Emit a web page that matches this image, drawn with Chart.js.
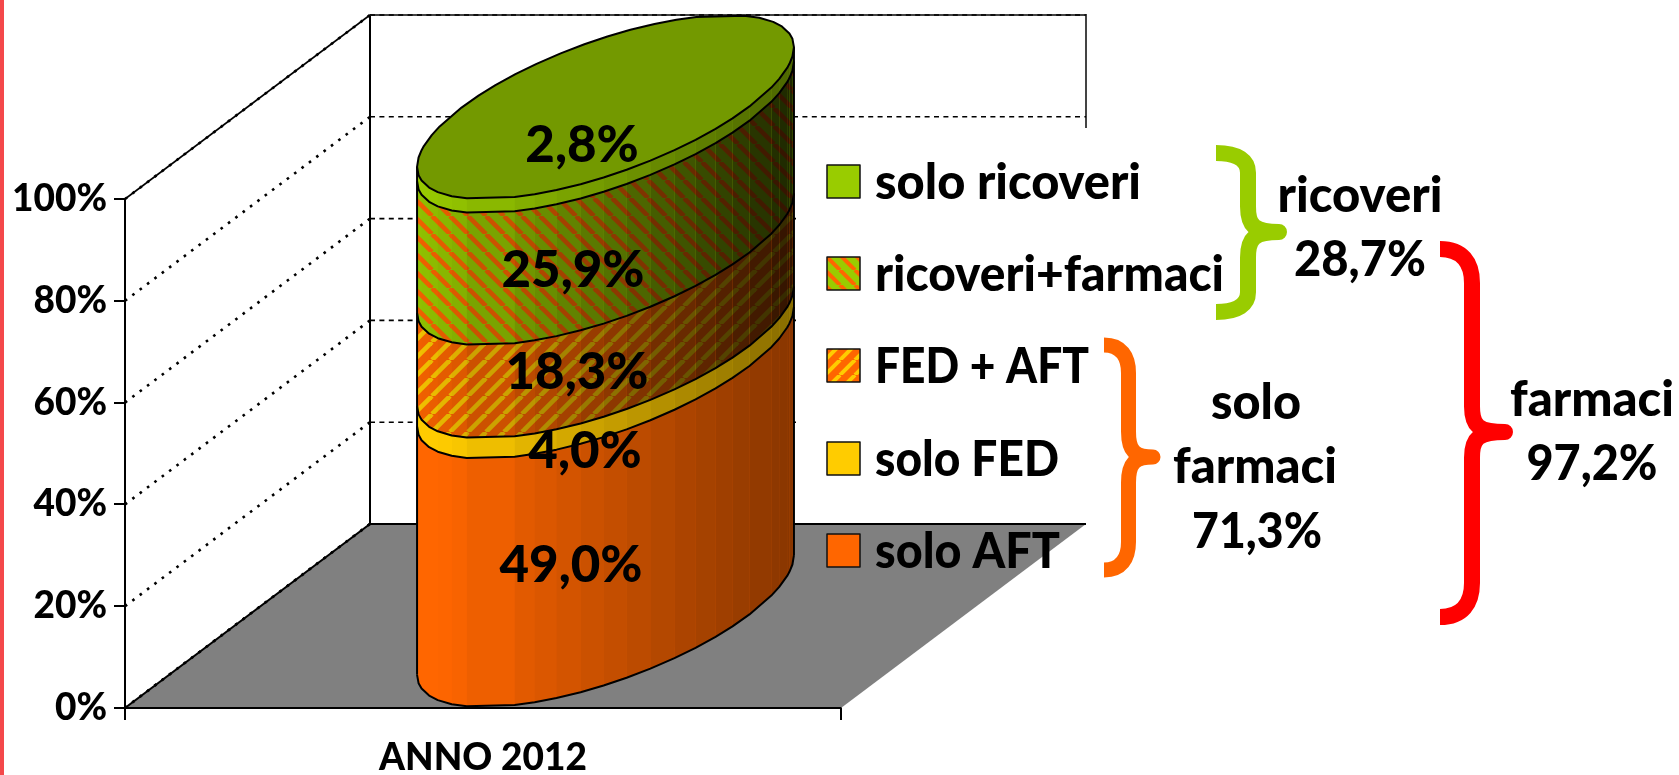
<!DOCTYPE html>
<html><head><meta charset="utf-8">
<style>html,body{margin:0;padding:0;background:#fff}canvas{display:block}</style>
<script src="https://cdn.jsdelivr.net/npm/chart.js@4"></script>
</head><body><canvas id="c" width="1679" height="775"></canvas>
<script>
const categories = ['ANNO 2012'];
const soloAFT = [49.0];
const soloFED = [4.0];
const fedAft = [18.3];
const ricoveriFarmaci = [25.9];
const soloRicoveri = [2.8];
const seriesNames = ['solo AFT', 'solo FED', 'FED + AFT', 'ricoveri+farmaci', 'solo ricoveri'];
const valueLabels = ['49,0%', '4,0%', '18,3%', '25,9%', '2,8%'];

// layout / style (not data)
const DEPTH = {x: 245, y: 184};
const FONT = 'Lato';
const WEIGHT = '900';
const LABEL_POS = [[571,582],[585,468],[577,389],[573,287],[582,162]];
const LEGEND_ROWS = [568,476,383,291,199];
const LEGEND_WIDTHS = [185,184,214,349,266];
const FACETS = [0,.004,.012,.032,.055,.092,.132,.259,.312,.37,.434,.495,.556,.619,.683,.739,.792,.837,.882,.94,.961,.982,.988,.996,1];

function hatch(bg, fg, dir, period, w) {
  const c = document.createElement('canvas'); c.width = c.height = period;
  const g = c.getContext('2d');
  g.fillStyle = bg; g.fillRect(0,0,period,period);
  g.strokeStyle = fg; g.lineWidth = w;
  for (let k = -1; k <= 1; k++) {
    g.beginPath();
    if (dir > 0) { g.moveTo(k*period, period); g.lineTo(k*period+period, 0); }
    else { g.moveTo(k*period, 0); g.lineTo(k*period+period, period); }
    g.stroke();
  }
  return g.createPattern(c, 'repeat');
}
const fills = [
  {color:'#FF6600', box:'#FF6600', top:1.03, slope:.5},
  {color:'#FFCC00', box:'#FFCC00', top:1.03, slope:.5},
  {color:hatch('#FF6600','#FFCC00', 1, 18, 4.6), box:hatch('#FF6600','#FFCC00', 1, 15, 4), top:.95, slope:.76},
  {color:hatch('#99CC00','#FF6600',-1, 18, 4.6), box:hatch('#99CC00','#FF6600',-1, 15, 4), top:.95, slope:.76},
  {color:'#99CC00', box:'#99CC00', top:1.0, slope:.5}
];

const scene = {
  id: 'scene',
  beforeDraw(chart){
    const c = chart.ctx;
    c.save();
    c.fillStyle = '#fff'; c.fillRect(0,0,chart.width,chart.height);
    c.fillStyle = '#F4484A'; c.fillRect(0,0,4,chart.height);
    c.restore();
  },
  beforeDatasetsDraw(chart){
    const c = chart.ctx, ya = chart.scales.y, xa = chart.scales.x;
    const L = xa.left, R = xa.right, dx = DEPTH.x, dy = DEPTH.y;
    c.save();
    const y100 = ya.getPixelForValue(100), y0 = ya.getPixelForValue(0);
    // solid edges of the walls
    c.strokeStyle = '#000'; c.lineWidth = 1.6;
    c.beginPath(); c.moveTo(L,y100); c.lineTo(L+dx,y100-dy); c.stroke();
    c.lineWidth = 2;
    c.beginPath(); c.moveTo(L+dx,y100-dy); c.lineTo(L+dx,y0-dy); c.stroke();
    c.strokeStyle = '#444';
    c.beginPath(); c.moveTo(L+dx,y100-dy); c.lineTo(R+dx,y100-dy); c.lineTo(R+dx,y0-dy); c.stroke();
    // gridlines
    c.strokeStyle = '#000';
    ya.ticks.forEach(t => {
      const y = ya.getPixelForValue(t.value);
      c.lineWidth = 2.6; c.setLineDash([2.6,6.6]);
      c.beginPath(); c.moveTo(L,y); c.lineTo(L+dx,y-dy); c.stroke();
      c.setLineDash([5,4.4]); c.lineWidth = 1.6;
      c.beginPath(); c.moveTo(L+dx,y-dy); c.lineTo(R+dx,y-dy); c.stroke();
    });
    c.setLineDash([]);
    // white legend area hides the back wall
    c.fillStyle = '#fff';
    c.fillRect(L+dx+426, 128, 300, y0-dy-128);
    // floor
    c.fillStyle = '#808080'; c.strokeStyle = '#000'; c.lineWidth = 2;
    c.beginPath(); c.moveTo(L,y0); c.lineTo(R,y0); c.lineTo(R+dx,y0-dy); c.lineTo(L+dx,y0-dy); c.closePath(); c.fill();
    c.beginPath(); c.moveTo(R+dx,y0-dy); c.lineTo(L+dx,y0-dy); c.lineTo(L,y0); c.lineTo(R,y0); c.stroke();
    c.lineWidth = 2.6; c.setLineDash([2.6,6.6]);
    c.beginPath(); c.moveTo(L,y0); c.lineTo(L+dx,y0-dy); c.stroke();
    c.setLineDash([]);

    // cylinder, built from the bar elements
    const firstBar = chart.getDatasetMeta(0).data[0];
    const cx = firstBar.x + dx/2;
    const A = firstBar.width/2, B = dx/2, D = dy/2;
    const W = Math.hypot(A,B), phi = Math.atan2(B,A);
    const fx = FACETS.map(f => cx - W + 2*W*f);
    const off = fx.map(x => {
      const al = 2*Math.PI - Math.acos(Math.max(-1,Math.min(1,(x-cx)/W)));
      return -D - D*Math.sin(al+phi);
    });
    const curve = (y, rev) => {
      const idx = fx.map((_,i)=>i); if (rev) idx.reverse();
      idx.forEach(i => c.lineTo(fx[i], y+off[i]));
    };
    chart.data.datasets.forEach((ds,di) => {
      const el = chart.getDatasetMeta(di).data[0];
      const yb = el.base, yt = el.y;
      c.beginPath(); c.moveTo(fx[0],yb+off[0]); curve(yb,false); curve(yt,true); c.closePath();
      c.fillStyle = ds.backgroundColor; c.fill();
      const sh = fills[di];
      for (let i=0;i<fx.length-1;i++){
        const m = (FACETS[i]+FACETS[i+1])/2;
        const f = Math.min(1, sh.top - sh.slope*m);
        c.beginPath();
        c.moveTo(fx[i],yb+off[i]); c.lineTo(fx[i+1],yb+off[i+1]);
        c.lineTo(fx[i+1],yt+off[i+1]); c.lineTo(fx[i],yt+off[i]); c.closePath();
        c.fillStyle = `rgba(0,0,0,${(1-f).toFixed(3)})`; c.fill();
      }
    });
    // outlines
    c.strokeStyle = '#000'; c.lineWidth = 2; c.lineJoin = 'round';
    chart.data.datasets.forEach((ds,di) => {
      const el = chart.getDatasetMeta(di).data[0];
      c.beginPath(); c.moveTo(fx[0],el.base+off[0]); curve(el.base,false); c.stroke();
    });
    const top = chart.getDatasetMeta(chart.data.datasets.length-1).data[0].y;
    const bot = firstBar.base;
    c.beginPath(); c.moveTo(fx[0],bot+off[0]); c.lineTo(fx[0],top+off[0]); c.stroke();
    const n = fx.length-1;
    c.beginPath(); c.moveTo(fx[n],bot+off[n]); c.lineTo(fx[n],top+off[n]); c.stroke();
    // top surface
    const cyTop = top - D;
    c.beginPath(); c.moveTo(fx[0],top+off[0]); curve(top,false);
    for (let i=1;i<fx.length;i++){ c.lineTo(2*cx-fx[i], 2*cyTop-(top+off[i])); }
    c.closePath();
    c.fillStyle = '#739900'; c.fill(); c.stroke();

    // value labels
    c.fillStyle = '#000'; c.textAlign = 'center'; c.textBaseline = 'alphabetic';
    c.font = `${WEIGHT} 51px ${FONT}`;
    valueLabels.forEach((t,i)=> c.fillText(t, LABEL_POS[i][0], LABEL_POS[i][1]));

    // legend
    c.textAlign = 'left';
    c.font = `${WEIGHT} 49px ${FONT}`;
    chart.data.datasets.forEach((ds,i)=>{
      const b = LEGEND_ROWS[i];
      c.fillStyle = fills[i].box;
      c.fillRect(827,b-34,33,33);
      c.strokeStyle = '#111'; c.lineWidth = 1.5; c.strokeRect(827,b-34,33,33);
      c.fillStyle = '#000';
      c.fillText(ds.label, 875, b, LEGEND_WIDTHS[i]);
    });

    // braces
    const brace = (col,x0,xm,xt,yt,ym,yb,w) => {
      const r = Math.min(34,(ym-yt)*.25), e = 16;
      c.strokeStyle = col; c.lineWidth = w; c.lineJoin = 'round'; c.lineCap = 'butt';
      c.beginPath(); c.moveTo(x0,yt);
      c.bezierCurveTo(x0+(xm-x0)*.7,yt,xm,yt+r*.4,xm,yt+r);
      c.lineTo(xm,ym-e*1.6);
      c.bezierCurveTo(xm,ym-e*.4,xm+6,ym,xt,ym);
      c.bezierCurveTo(xm+6,ym,xm,ym+e*.4,xm,ym+e*1.6);
      c.lineTo(xm,yb-r);
      c.bezierCurveTo(xm,yb-r*.4,x0+(xm-x0)*.7,yb,x0,yb);
      c.stroke();
    };
    brace('#99CC00',1216,1248,1279,153,232,312,16);
    brace('#FF6600',1104,1128.5,1153,345,457,570,15);
    brace('#FF0000',1440,1472,1505,249,432,617,16);

    // totals
    c.fillStyle = '#000'; c.textAlign = 'center';
    c.font = `${WEIGHT} 49px ${FONT}`;
    [['ricoveri',1360,212,166],['28,7%',1360,276,132],['solo',1256,419,90],['farmaci',1255,483,164],['71,3%',1257,548,130],['farmaci',1592,416,164],['97,2%',1592,480,131]]
      .forEach(([t,x,y,w])=>c.fillText(t,x,y,w));
    c.restore();
    return false;
  }
};

new Chart(document.getElementById('c'), {
  type: 'bar',
  data: {
    labels: categories,
    datasets: [soloAFT, soloFED, fedAft, ricoveriFarmaci, soloRicoveri].map((d,i)=>({
      label: seriesNames[i], data: d, backgroundColor: fills[i].color,
      barPercentage: 0.4, categoryPercentage: 1
    }))
  },
  options: {
    responsive: false, animation: false,
    layout: {padding: {left: 0, top: 199, right: 838, bottom: 0}},
    plugins: {legend: {display: false}, tooltip: {enabled: false}},
    scales: {
      x: {
        stacked: true,
        afterFit(s){ s.height = 67; },
        grid: {drawOnChartArea: false, color: '#000', lineWidth: 2, tickLength: 12},
        border: {color: '#000', width: 2},
        ticks: {color: '#000', padding: 16, font: {family: FONT, weight: WEIGHT, size: 37}}
      },
      y: {
        stacked: true, min: 0, max: 100,
        afterFit(s){ s.width = 125; },
        grid: {drawOnChartArea: false, color: '#000', lineWidth: 2, tickLength: 11},
        border: {color: '#000', width: 2},
        ticks: {stepSize: 20, color: '#000', padding: 7, callback: v => v + '%', font: {family: FONT, weight: WEIGHT, size: 37}}
      }
    }
  },
  plugins: [scene]
});
</script></body></html>
